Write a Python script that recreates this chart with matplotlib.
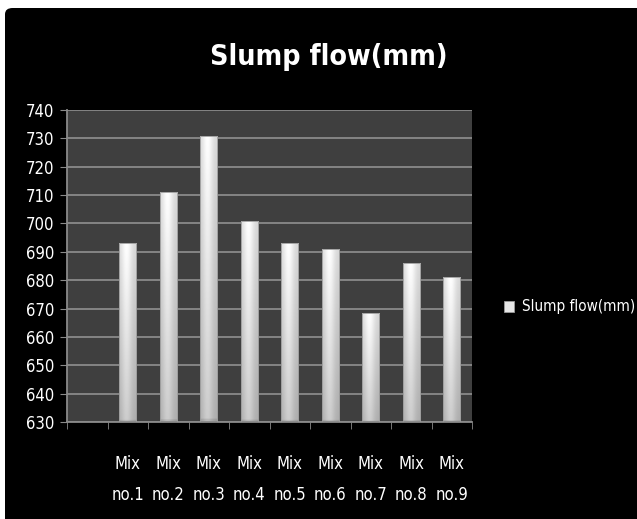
import numpy as np
import matplotlib.pyplot as plt
from matplotlib.patches import FancyBboxPatch, Patch

# slump flow test results, first slot left empty as in the source sheet
categories = ['', 'Mix\nno.1', 'Mix\nno.2', 'Mix\nno.3', 'Mix\nno.4', 'Mix\nno.5',
              'Mix\nno.6', 'Mix\nno.7', 'Mix\nno.8', 'Mix\nno.9']
slump_flow = [np.nan, 693, 711, 731, 701, 693, 691, 668.5, 686, 681]
y_ticks = list(range(630, 741, 10))
series_name = 'Slump flow(mm)'

plt.rcParams['font.family'] = ['DejaVu Sans']
plt.rcParams['font.stretch'] = 'condensed'

fig = plt.figure(figsize=(6.37, 5.19), dpi=100, facecolor='white')
# black chart area with a rounded top-left corner
bg = FancyBboxPatch((5 / 637, -0.1), 1.2, 1.1 - 8 / 519,
                    boxstyle='round,pad=0,rounding_size=0.012',
                    transform=fig.transFigure, facecolor='black',
                    edgecolor='none', zorder=-10)
fig.patches.append(bg)

ax = fig.add_axes([67 / 637, 97 / 519, 405 / 637, 312 / 519])
ax.set_facecolor('#3f3f3f')

x = np.arange(len(categories))
bars = ax.bar(x, slump_flow, width=0.42, bottom=0, color='none',
              edgecolor='#9a9a9a', linewidth=0.6, zorder=3)

# glossy shading: white near the top and centre, greyer at the sides and base
u = np.linspace(0, 1, 64)
profile = 0.84 + 0.16 * np.exp(-((u - 0.42) / 0.3) ** 2)
v = np.linspace(0, 1, 256)[:, None]
shade = profile[None, :] * (0.80 + 0.20 * v)
shade[:3, :] *= 0.9
for rect, val in zip(bars, slump_flow):
    if np.isnan(val):
        continue
    x0 = rect.get_x()
    im = ax.imshow(shade, cmap='gray', vmin=0, vmax=1, aspect='auto',
                   extent=(x0, x0 + rect.get_width(), y_ticks[0], val),
                   origin='lower', zorder=2, interpolation='bilinear')
    im.set_clip_path(rect)

ax.set_xlim(-0.5, len(categories) - 0.5)
ax.set_ylim(y_ticks[0], y_ticks[-1])
ax.set_yticks(y_ticks)
ax.set_yticklabels([str(t) for t in y_ticks], color='white', fontsize=12)
ax.set_xticks(x)
ax.set_xticklabels(categories, color='white', fontsize=12, linespacing=1.9)
ax.set_xticks(np.arange(len(categories) + 1) - 0.5, minor=True)
ax.tick_params(axis='x', which='major', length=0, pad=24)
ax.tick_params(axis='x', which='minor', length=5, color='#8a8a8a')
ax.tick_params(axis='y', length=5, color='#8a8a8a', pad=4)
ax.grid(axis='y', color='#8a8a8a', linewidth=1.3, zorder=1)
ax.set_axisbelow(True)
for side in ('top', 'right'):
    ax.spines[side].set_visible(False)
for side in ('left', 'bottom'):
    ax.spines[side].set_color('#8a8a8a')
    ax.spines[side].set_linewidth(1.3)

fig.text(329 / 637, 1 - 57 / 519, series_name, color='white', fontsize=20.5,
         fontweight='bold', ha='center', va='center')

handle = Patch(facecolor='#e6e6e6', edgecolor='#9a9a9a', linewidth=0.6)
leg = fig.legend([handle], [series_name], loc='center left',
                 bbox_to_anchor=(496 / 637, 1 - 307 / 519), frameon=False,
                 fontsize=11, handlelength=0.7, handleheight=0.7,
                 handletextpad=0.5, borderpad=0)
for t in leg.get_texts():
    t.set_color('white')

fig.savefig('out.png', dpi=100, facecolor=fig.get_facecolor())
